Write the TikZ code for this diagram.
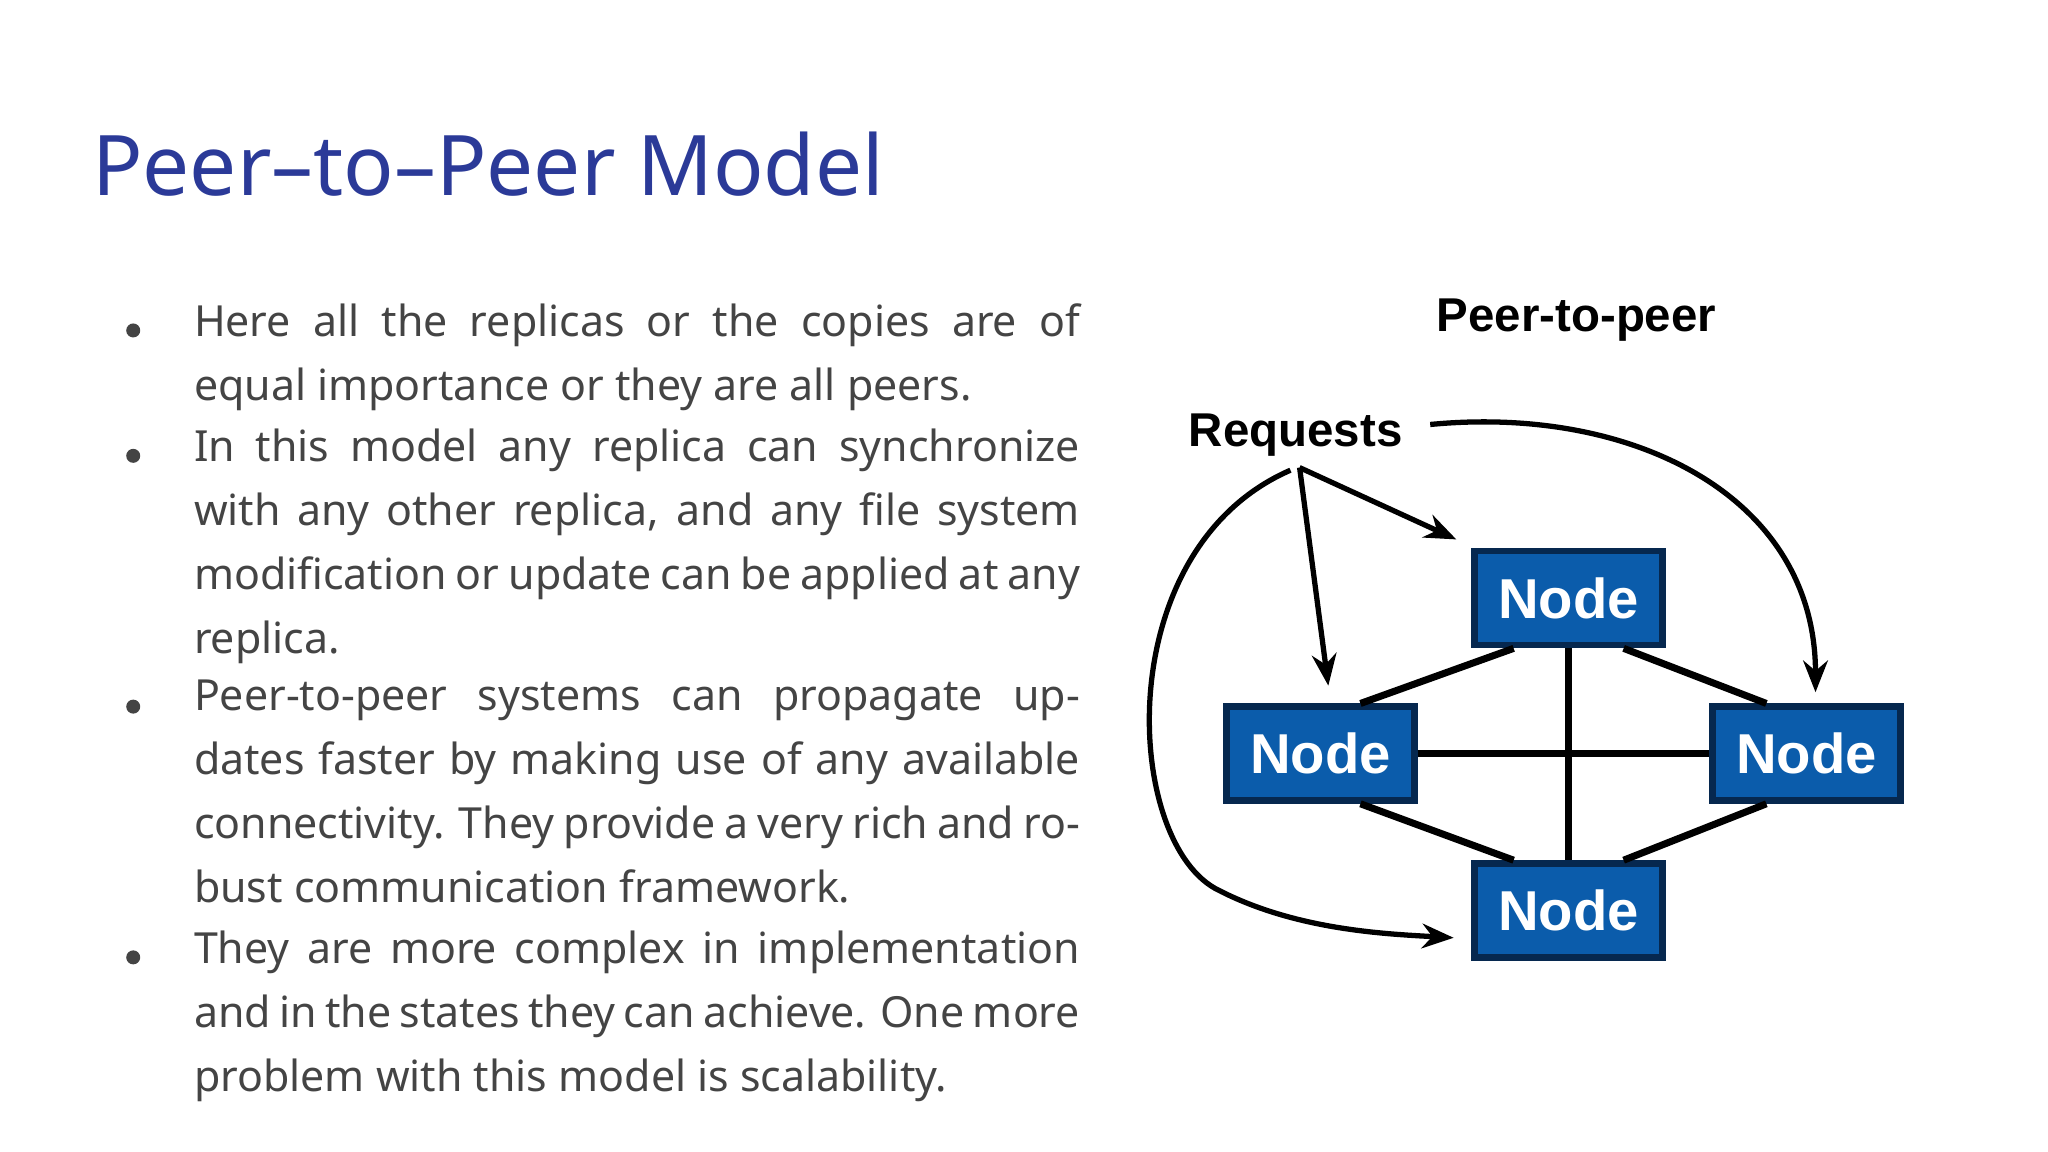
\documentclass[tikz,border=0pt]{standalone}
\usepackage{fontspec}
\setmainfont{Noto Sans}
\newfontfamily\lib{Liberation Sans}
\usetikzlibrary{arrows.meta}
\definecolor{ttl}{HTML}{2B3A98}
\definecolor{bodyc}{HTML}{444444}
\definecolor{nodeb}{HTML}{0B5CAB}
\definecolor{nodebd}{HTML}{06284F}
\newcommand{\nohy}{\hyphenpenalty=10000\relax\exhyphenpenalty=10000\relax}
\begin{document}
\begin{tikzpicture}[x=0.013061cm,y=-0.013061cm,
  box/.style={draw=nodebd,line width=1.8pt,fill=nodeb,minimum width=1.88cm,minimum height=0.94cm,text=white,font=\lib\bfseries\fontsize{16}{19}\selectfont},
  ln/.style={line width=2pt,black},
  para/.style={anchor=north west,inner sep=0,text width=8.86cm,text=bodyc,font=\fontsize{12.2}{18.2}\selectfont,align=justify},
  bul/.style={circle,fill=bodyc,inner sep=0,minimum size=0.14cm},
  arr/.style={line width=1.5pt,-{Stealth[length=9pt,width=7pt]}}]
\useasboundingbox (0,0) rectangle (1568,882);
\node[anchor=base west,text=ttl,font=\fontsize{23.8}{28}\selectfont,inner sep=0] (title) at (70,150) {Peer–to–Peer Model};
\node[para] (p1) at (148,232) {\nohy Here all the replicas or the copies are of equal importance or they are all peers.};
\node[para] (p2) at (148,328) {\nohy In this model any replica can synchronize with any other replica, and any file system modification or update can be applied at any replica.};
\node[para] (p3) at (148,520) {\nohy Peer-to-peer systems can propagate updates faster by making use of any available connectivity. They provide a very rich and robust communication framework.};
\node[para] (p4) at (148,712) {\nohy They are more complex in implementation and in the states they can achieve. One more problem with this model is scalability.};
\foreach \yy/\n in {253/b1,349/b2,541/b3,733/b4}
  \node[bul] (\n) at (102,\yy) {};
% diagram
\node[box] (nt) at (1201,458) {Node};
\node[box] (nl) at (1011,577) {Node};
\node[box] (nr) at (1383,577) {Node};
\node[box] (nb) at (1201,697) {Node};
\draw[ln] (nl.east) -- (nr.west);
\draw[ln] (nt.south) -- (nb.north);
\draw[ln] ([xshift=-0.55cm]nt.south) -- ([xshift=0.4cm]nl.north);
\draw[ln] ([xshift=0.55cm]nt.south) -- ([xshift=-0.4cm]nr.north);
\draw[ln] ([xshift=0.4cm]nl.south) -- ([xshift=-0.55cm]nb.north);
\draw[ln] ([xshift=-0.4cm]nr.south) -- ([xshift=0.55cm]nb.north);
\node[font=\lib\bfseries\fontsize{13.5}{16}\selectfont] (p2p) at (1207,245) {Peer-to-peer};
\node[font=\lib\bfseries\fontsize{13.5}{16}\selectfont] (req) at (992,333) {Requests};
\coordinate (rq) at (995,358);
\draw[arr] (rq) -- (1115,413);
\draw[arr] (rq) -- (1017,525);
\draw[arr] (1095,325) .. controls (1250,310) and (1390,380) .. (1390,530);
\draw[arr] (988,360) .. controls (850,420) and (860,640) .. (930,680) .. controls (990,712) and (1060,715) .. (1113,718);
\end{tikzpicture}
\end{document}
